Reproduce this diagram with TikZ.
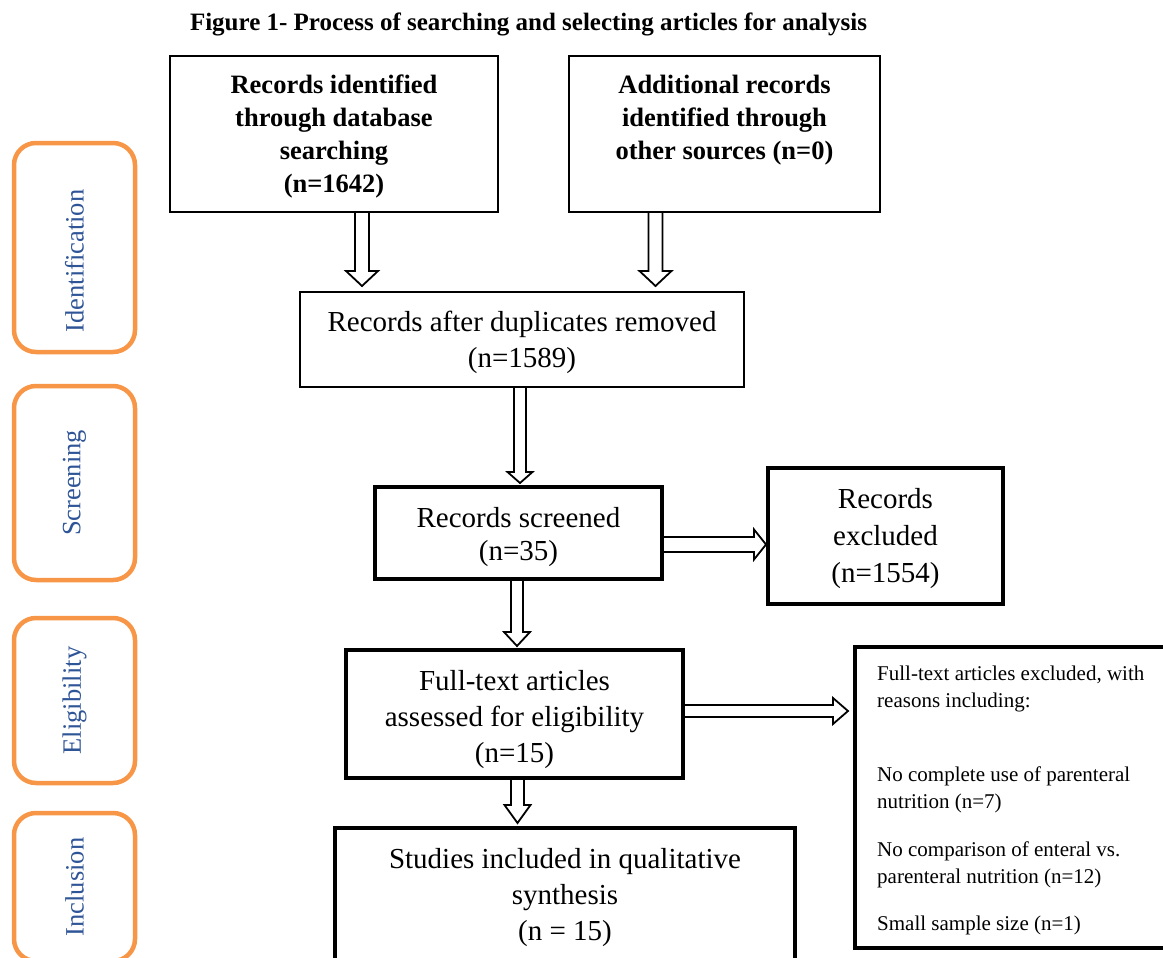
\documentclass[tikz,border=0pt]{standalone}
\usepackage{fontspec}
\setmainfont{Liberation Serif}
\usetikzlibrary{calc,backgrounds}
\definecolor{sideorange}{HTML}{F79646}
\definecolor{sideblue}{HTML}{2F5597}
\newcommand\fbold{\fontsize{26.5}{33}\selectfont\bfseries}
\newcommand\fmain{\fontsize{29}{36}\selectfont}
\newcommand\fsmall{\fontsize{21}{27}\selectfont}
\newcommand\fside{\fontsize{26.5}{30}\selectfont}
\newcommand\vconn[5]{\draw[harrow] let \p1=(#1), \p2=(#2) in
  (\x1-#3,\y1) -- (\x1-#3,\y2+#5) -- (\x1-#4,\y2+#5) -- (\x1,\y2) -- (\x1+#4,\y2+#5) -- (\x1+#3,\y2+#5) -- (\x1+#3,\y1);}
\newcommand\hconn[5]{\draw[harrow] let \p1=(#1), \p2=(#2) in
  (\x1,\y1+#3) -- (\x2-#5,\y1+#3) -- (\x2-#5,\y1+#4) -- (\x2,\y1) -- (\x2-#5,\y1-#4) -- (\x2-#5,\y1-#3) -- (\x1,\y1-#3);}
\begin{document}
\begin{tikzpicture}[x=1pt,y=-1pt,
  box/.style={draw, line width=2pt, inner sep=0pt},
  thickbox/.style={draw, line width=4pt, inner sep=0pt},
  txt/.style={align=center, inner sep=0pt},
  side/.style={draw=sideorange, line width=4.5pt, rounded corners=22pt, minimum height=121pt, inner sep=0pt, text=sideblue, rotate=90, font=\fside},
  harrow/.style={draw, line width=1.8pt, fill=white, line join=miter},
  ]
\useasboundingbox (0,0) rectangle (1163,958);
% title
\node[font=\fontsize{25}{28}\selectfont\bfseries] (title) at (528.5,24) {Figure 1- Process of searching and selecting articles for analysis};
% side labels
\node[side, minimum width=209pt] (sid) at (74.5,247.5) {\kern-27pt Identification};
\node[side, minimum width=194pt] (sscr) at (74.5,483) {Screening};
\node[side, minimum width=165pt] (selig) at (74.5,700.5) {Eligibility};
\node[side, minimum width=148pt] (sinc) at (74.5,887) {Inclusion};
% boxes
\node[box, minimum width=328pt, minimum height=156pt] (A) at (334,134) {};
\node[txt, font=\fbold] (At) at (334,136)
  {Records identified\\through database\\searching\\(n=1642)};
\node[box, minimum width=311pt, minimum height=156pt] (B) at (724.5,134) {};
\node[txt, font=\fbold] (Bt) at (724.5,120.5)
  {Additional records\\identified through\\other sources (n=0)};
\node[box, minimum width=444pt, minimum height=95pt] (C) at (522,339.5) {};
\node[txt, font=\fmain] (Ct) at (522,342.5)
  {Records after duplicates removed\\(n=1589)};
\node[thickbox, minimum width=287pt, minimum height=92pt] (D) at (518.5,533) {};
\node[txt, font=\fmain, execute at begin node={\baselineskip=33pt}] (Dt) at (518.5,537)
  {Records screened\\(n=35)};
\node[thickbox, minimum width=235pt, minimum height=136pt] (E) at (885.5,536) {};
\node[txt, font=\fmain, execute at begin node={\baselineskip=37pt}] (Et) at (885.5,539)
  {Records\\excluded\\(n=1554)};
\node[thickbox, minimum width=337pt, minimum height=128pt] (F) at (514.5,714) {};
\node[txt, font=\fmain] (Ft) at (514.5,720)
  {Full-text articles\\assessed for eligibility\\(n=15)};
\node[thickbox, minimum width=460pt, minimum height=132pt] (G) at (565,894) {};
\node[txt, font=\fmain] (Gt) at (565,897.5)
  {Studies included in qualitative\\synthesis\\(n = 15)};
\node[thickbox, minimum width=313pt, minimum height=301pt, anchor=west] (H) at (853,797.5) {};
\node[txt, font=\fsmall, align=left, anchor=west] (Ht) at (877,800.5)
  {Full-text articles excluded, with\\reasons including:\\[47pt]
   No complete use of parenteral\\nutrition (n=7)\\[21pt]
   No comparison of enteral vs.\\parenteral nutrition (n=12)\\[20pt]
   Small sample size (n=1)};
% connectors
\begin{scope}[on background layer]
\vconn{$(A.south)+(28,0)$}{$(C.north)+(0,-5)$}{7pt}{16pt}{15pt}
\vconn{$(B.south)+(-69,0)$}{$(C.north)+(0,-5)$}{7pt}{16pt}{15pt}
\vconn{$(C.south)+(-2,0)$}{$(D.north)+(0,-2)$}{6pt}{12.5pt}{11pt}
\vconn{$(D.south)+(-1.5,0)$}{$(F.north)+(0,-2)$}{6pt}{13pt}{14pt}
\vconn{$(F.south)+(3,0)$}{$(G.north)+(0,-3)$}{6.5pt}{13pt}{18pt}
\hconn{$(D.east)+(0,11.5)$}{E.west}{7.5pt}{15pt}{12pt}
\hconn{$(F.east)+(0,-3)$}{$(H.west)+(-5,0)$}{6pt}{13pt}{15pt}
\end{scope}
\end{tikzpicture}
\end{document}
